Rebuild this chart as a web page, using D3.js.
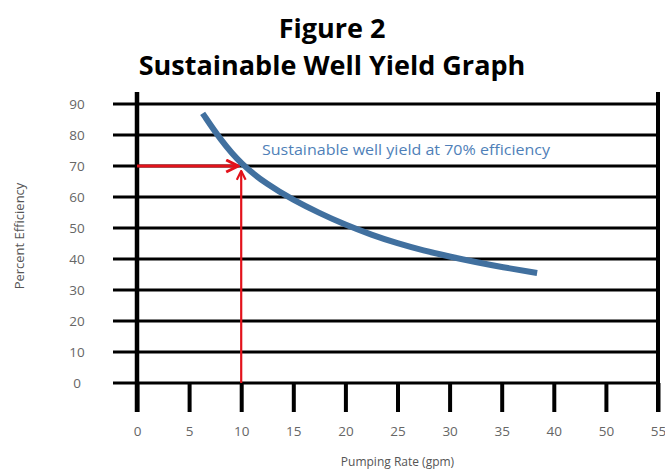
<!DOCTYPE html>
<html><head><meta charset="utf-8">
<script src="https://cdn.jsdelivr.net/npm/d3@7"></script>
<style>
html,body{margin:0;padding:0;background:#fff;}
svg{display:block;}
</style></head>
<body>
<svg id="chart" width="665" height="474"></svg>
<script>
// ---- data ----
const titleLines = ["Figure 2", "Sustainable Well Yield Graph"];
const xTickLabels = ["0","5","10","15","20","25","30","35","40","50","55"];
const yTickValues = [0,10,20,30,40,50,60,70,80,90];
const pumpingRate = [6.3, 8, 10, 12.5, 15, 17.5, 20, 22.5, 25, 27.5, 30, 32.5, 35, 38.4];
const efficiency  = [87, 78.5, 70.5, 64, 59, 54.8, 51, 47.8, 45, 42.7, 40.8, 39, 37.4, 35.5];
const targetRate = 10;
const targetEff = 70;
const curveLabel = "Sustainable well yield at 70% efficiency";
const xTitle = "Pumping Rate (gpm)";
const yTitle = "Percent Efficiency";

(function () {
const svg = d3.select("#chart");
const pL = 137, pR = 658, pT = 104, pB = 383;
const xBand = d3.scalePoint().domain(xTickLabels).range([pL, pR]);
const x = d3.scaleLinear().domain([0, 40]).range([xBand("0"), xBand("40")]);
const y = d3.scaleLinear().domain([0, 90]).range([pB, pT]);
const font = "'Open Sans', sans-serif";

// title
svg.append("g").selectAll("text").data(titleLines).join("text")
  .attr("x", 332).attr("y", (d,i) => 38 + i*37)
  .attr("text-anchor", "middle")
  .attr("font-family", font).attr("font-weight", 700).attr("font-size", 27)
  .attr("fill", "#000").text(d => d);

// horizontal grid lines
svg.append("g").selectAll("line").data(yTickValues).join("line")
  .attr("x1", 113).attr("x2", pR)
  .attr("y1", d => y(d)).attr("y2", d => y(d))
  .attr("stroke", "#000").attr("stroke-width", 3.2);

// y axis labels
const yAxis = d3.axisLeft(y).tickValues(yTickValues).tickSize(0).tickPadding(0);
const gy = svg.append("g").attr("transform", "translate(86,0)").call(yAxis);
gy.select(".domain").remove();
gy.selectAll("text").attr("font-family", font).attr("font-size", 13.5)
  .attr("fill", "#666").attr("text-anchor", "middle").attr("x", -9);

// x axis ticks & labels
const xAxis = d3.axisBottom(xBand).tickSize(29).tickPadding(14);
const gx = svg.append("g").attr("transform", `translate(0,${pB})`).call(xAxis);
gx.select(".domain").remove();
gx.selectAll(".tick line").attr("stroke", "#000").attr("stroke-width", 4);
gx.selectAll("text").attr("font-family", font).attr("font-size", 13.5).attr("fill", "#666");

// left axis and right border
svg.append("line").attr("x1", pL).attr("x2", pL).attr("y1", 92).attr("y2", 412)
  .attr("stroke", "#000").attr("stroke-width", 4.5);
svg.append("line").attr("x1", pR).attr("x2", pR).attr("y1", 92).attr("y2", 412)
  .attr("stroke", "#000").attr("stroke-width", 4);

// axis titles
svg.append("text").attr("x", xBand("25")).attr("y", 466).attr("text-anchor", "middle")
  .attr("font-family", font).attr("font-size", 12).attr("fill", "#555").text(xTitle);
svg.append("text").attr("transform", "translate(24,236) rotate(-90)").attr("text-anchor", "middle")
  .attr("font-family", font).attr("font-size", 13).attr("fill", "#555").text(yTitle);

// red arrows
const defs = svg.append("defs");
defs.append("marker").attr("id", "arr").attr("viewBox", "0 0 10 10")
  .attr("refX", 9).attr("refY", 5).attr("markerWidth", 5).attr("markerHeight", 5)
  .attr("markerUnits", "strokeWidth").attr("orient", "auto")
  .append("path").attr("d", "M1,1 L9,5 L1,9").attr("fill", "none")
  .attr("stroke", "#e3121b").attr("stroke-width", 2);
svg.append("line").attr("x1", pL).attr("x2", x(targetRate) - 3)
  .attr("y1", y(targetEff)).attr("y2", y(targetEff))
  .attr("stroke", "#e3121b").attr("stroke-width", 3).attr("marker-end", "url(#arr)");
svg.append("line").attr("x1", x(targetRate)).attr("x2", x(targetRate))
  .attr("y1", y(0)).attr("y2", y(targetEff) + 5)
  .attr("stroke", "#e3121b").attr("stroke-width", 2.2).attr("marker-end", "url(#arr)");

// curve
const pts = pumpingRate.map((r, i) => [r, efficiency[i]]);
svg.append("path").datum(pts)
  .attr("d", d3.line().x(d => x(d[0])).y(d => y(d[1])).curve(d3.curveBasis))
  .attr("fill", "none").attr("stroke", "#41709f").attr("stroke-width", 6)
  .attr("stroke-linecap", "butt");

// curve label
svg.append("text").attr("x", 262).attr("y", 155)
  .attr("font-family", font).attr("font-size", 14).attr("fill", "#4f7fb8")
  .attr("textLength", 288).attr("lengthAdjust", "spacingAndGlyphs").text(curveLabel);
})();
</script>
</body></html>
